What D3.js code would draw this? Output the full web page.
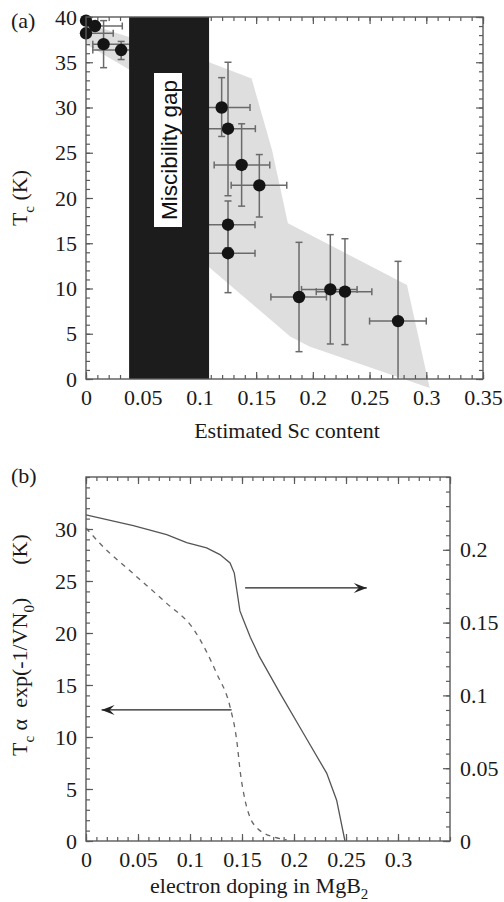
<!DOCTYPE html>
<html><head><meta charset="utf-8">
<script src="https://cdn.jsdelivr.net/npm/d3@7"></script>
<style>
body{margin:0;background:#fff;}
svg{display:block;}
</style></head>
<body>
<svg id="chart" width="504" height="902"></svg>
<script>
// ---------- Panel (a) data ----------
const scContent = [0.000, 0.008, 0.000, 0.0155, 0.031, 0.1196, 0.1252, 0.1372, 0.1528, 0.1252, 0.1252, 0.1878, 0.2154, 0.2283, 0.2751];
const tcMeasured = [39.6, 39.0, 38.2, 37.0, 36.35, 30.0, 27.66, 23.65, 21.4, 17.05, 13.9, 9.06, 9.9, 9.65, 6.4];
const scLow  = [null, 0.000, 0.000, 0.006, 0.006, 0.095, 0.100, 0.113, 0.128, 0.100, 0.100, 0.163, 0.190, 0.203, 0.250];
const scHigh = [null, 0.032, 0.024, 0.039, 0.040, 0.1446, 0.1493, 0.162, 0.177, 0.149, 0.149, 0.212, 0.239, 0.252, 0.300];
const tcLow  = [null, null, null, 34.4, 35.3, 26.8, 20.25, 19.1, 17.9, 14.5, 9.54, 3.02, 3.87, 3.8, 0.0];
const tcHigh = [null, null, null, 39.6, 37.3, 33.3, 35.0, 28.2, 24.8, 19.67, 17.0, 15.1, 15.95, 15.5, 13.0];
const bandUpper = [[0,39.3],[0.038,37.8],[0.1085,35.0],[0.146,33.2],[0.164,25.3],[0.178,17.2],[0.283,10.4],[0.303,-1.0]];
const bandLower = [[0.303,-1.0],[0.197,3.6],[0.18,4.7],[0.109,12.3],[0.038,34.2],[0,37.0]];
const gapRange = [0.038, 0.1085];
const gapLabel = "Miscibility gap";
const aXTicks = [0,0.05,0.1,0.15,0.2,0.25,0.3,0.35];
const aXLabels = ["0","0.05","0.1","0.15","0.2","0.25","0.3","0.35"];
const aYTicks = [0,5,10,15,20,25,30,35,40];
const aYLabels = ["0","5","10","15","20","25","30","35","40"];

// ---------- Panel (b) data ----------
const dopingSolid = [0,0.0455,0.0776,0.0968,0.116,0.1288,0.1385,0.1426,0.1455,0.148,0.1513,0.158,0.1665,0.1865,0.209,0.2314,0.241,0.249];
const expSolid    = [0.224,0.2166,0.2104,0.205,0.2013,0.1967,0.191,0.184,0.170,0.158,0.152,0.140,0.127,0.1016,0.074,0.0466,0.028,0];
const dopingDashed = [0,0.0135,0.0455,0.0776,0.1032,0.1257,0.1385,0.1449,0.1485,0.153,0.158,0.164,0.172,0.18,0.193];
const tcDashed     = [30.1,28.6,25.7,22.85,20.4,16.1,12.9,9.7,6.5,3.9,2.2,1.3,0.7,0.4,0.1];
const arrowRight = {x0:0.153, x1:0.27, v:0.1738};
const arrowLeft  = {x0:0.140, x1:0.015, v:12.6};
const bXTicks = [0,0.05,0.1,0.15,0.2,0.25,0.3];
const bXLabels = ["0","0.05","0.1","0.15","0.2","0.25","0.3"];
const bYLTicks = [0,5,10,15,20,25,30];
const bYLLabels = ["0","5","10","15","20","25","30"];
const bYRTicks = [0,0.05,0.1,0.15,0.2];
const bYRLabels = ["0","0.05","0.1","0.15","0.2"];

const SERIF = "'Liberation Serif', 'Times New Roman', serif";
const SANS = "'Liberation Sans', Arial, sans-serif";
const svg = d3.select("#chart");
const axisCol = "#5a5a5a";
const tickFont = 22;

function styleAxis(g){
  g.select(".domain").remove();
  g.selectAll(".tick line").attr("stroke",axisCol).attr("stroke-width",1.2);
  g.selectAll("text").style("font-size",tickFont+"px").attr("fill","#1a1a1a").style("font-family",SERIF);
}
function frameAxes(g, x, y, xt, xl, yt, yl, minorX, minorY, opts){
  const [x0,x1] = x.range(), [y0,y1] = y.range();
  g.append("g").attr("transform",`translate(0,${y0})`)
   .call(d3.axisBottom(x).tickValues(xt).tickFormat((d,i)=>xl[i]).tickSize(-7).tickPadding(opts.xpad))
   .call(styleAxis);
  g.append("g").attr("transform",`translate(0,${y0})`)
   .call(d3.axisBottom(x).tickValues(minorX).tickFormat("").tickSize(-4)).call(styleAxis);
  g.append("g").attr("transform",`translate(0,${y1})`)
   .call(d3.axisTop(x).tickValues(xt.concat(opts.extraTopX||[])).tickFormat("").tickSize(-7)).call(styleAxis);
  g.append("g").attr("transform",`translate(0,${y1})`)
   .call(d3.axisTop(x).tickValues(minorX).tickFormat("").tickSize(-4)).call(styleAxis);
  g.append("g").attr("transform",`translate(${x0},0)`)
   .call(d3.axisLeft(y).tickValues(yt).tickFormat((d,i)=>yl[i]).tickSize(-7).tickPadding(opts.ypad))
   .call(styleAxis);
  g.append("g").attr("transform",`translate(${x0},0)`)
   .call(d3.axisLeft(y).tickValues(minorY).tickFormat("").tickSize(-4)).call(styleAxis);
}
function label(g, x, y, size, txt){
  return g.append("text").attr("x",x).attr("y",y).style("font-size",size+"px")
    .style("font-family",SERIF).attr("fill","#1a1a1a").text(txt);
}

// ================= Panel (a) =================
const aX = d3.scaleLinear().domain([0,0.35]).range([86,483]);
const aY = d3.scaleLinear().domain([0,40]).range([379,17]);
const ga = svg.append("g");

ga.append("path")
  .attr("d", d3.line().x(d=>aX(d[0])).y(d=>aY(d[1]))(bandUpper.concat(bandLower)) + "Z")
  .attr("fill","#dedede");

frameAxes(ga, aX, aY, aXTicks, aXLabels, aYTicks, aYLabels,
  d3.range(0,0.3501,0.01), d3.range(0,40.01,1), {xpad:10, ypad:9});
ga.append("g").attr("transform",`translate(483,0)`)
  .call(d3.axisRight(aY).tickValues(aYTicks).tickFormat("").tickSize(-7)).call(styleAxis);
ga.append("g").attr("transform",`translate(483,0)`)
  .call(d3.axisRight(aY).tickValues(d3.range(0,40.01,1)).tickFormat("").tickSize(-4)).call(styleAxis);

const eb = ga.append("g").attr("stroke","#6a6a6a").attr("stroke-width",1.5).attr("fill","none");
const cap = 3.5;
scContent.forEach((xv,i)=>{
  const cx = aX(xv), cy = aY(tcMeasured[i]);
  if(scLow[i]!==null){
    const a = aX(scLow[i]), b = aX(scHigh[i]);
    eb.append("line").attr("x1",a).attr("x2",b).attr("y1",cy).attr("y2",cy);
    if(scLow[i]>0) eb.append("line").attr("x1",a).attr("x2",a).attr("y1",cy-cap).attr("y2",cy+cap);
    eb.append("line").attr("x1",b).attr("x2",b).attr("y1",cy-cap).attr("y2",cy+cap);
  }
  if(tcLow[i]!==null){
    const a = aY(tcLow[i]), b = aY(tcHigh[i]);
    eb.append("line").attr("x1",cx).attr("x2",cx).attr("y1",a).attr("y2",b);
    if(tcLow[i]>0) eb.append("line").attr("x1",cx-cap).attr("x2",cx+cap).attr("y1",a).attr("y2",a);
    eb.append("line").attr("x1",cx-cap).attr("x2",cx+cap).attr("y1",b).attr("y2",b);
  }
});
ga.append("g").selectAll("circle").data(scContent).join("circle")
  .attr("cx",d=>aX(d)).attr("cy",(d,i)=>aY(tcMeasured[i])).attr("r",6.2).attr("fill","#141414");

ga.append("rect").attr("x",aX(gapRange[0])).attr("y",aY(40))
  .attr("width",aX(gapRange[1])-aX(gapRange[0])).attr("height",aY(0)-aY(40)).attr("fill","#1c1c1c");
ga.append("rect").attr("x",154).attr("y",73).attr("width",28).attr("height",154).attr("fill","#fff");
ga.append("text").attr("transform",`translate(176.5,150) rotate(-90)`)
  .attr("text-anchor","middle").style("font-size","22.5px").attr("fill","#111")
  .style("font-family",SANS).text(gapLabel);

ga.append("rect").attr("x",86).attr("y",17).attr("width",397).attr("height",362)
  .attr("fill","none").attr("stroke",axisCol).attr("stroke-width",1.4);

label(ga, 11, 28, 22, "(a)");
const ya = ga.append("text").attr("transform","translate(27,198) rotate(-90)")
  .attr("text-anchor","middle").style("font-size","22px").style("font-family",SERIF).attr("fill","#1a1a1a");
ya.append("tspan").text("T");
ya.append("tspan").attr("dy",7).style("font-size","15px").text("c");
ya.append("tspan").attr("dy",-7).text(" (K)");
label(ga, 287, 438, 22, "Estimated Sc content").attr("text-anchor","middle");

// ================= Panel (b) =================
const bX = d3.scaleLinear().domain([0,0.35]).range([86,450]);
const bYL = d3.scaleLinear().domain([0,35]).range([841,477]);
const bYR = d3.scaleLinear().domain([0,0.25]).range([841,477]);
const gb = svg.append("g");

frameAxes(gb, bX, bYL, bXTicks, bXLabels, bYLTicks, bYLLabels,
  d3.range(0,0.3501,0.01), d3.range(0,35.01,1), {xpad:10, ypad:9, extraTopX:[0.35]});
gb.append("g").attr("transform",`translate(450,0)`)
  .call(d3.axisRight(bYR).tickValues(bYRTicks).tickFormat((d,i)=>bYRLabels[i]).tickSize(-7).tickPadding(10))
  .call(styleAxis);
gb.append("g").attr("transform",`translate(450,0)`)
  .call(d3.axisRight(bYR).tickValues(d3.range(0,0.2501,0.01)).tickFormat("").tickSize(-4)).call(styleAxis);

gb.append("path")
  .attr("d", d3.line().x(d=>bX(d)).y((d,i)=>bYR(expSolid[i]))(dopingSolid))
  .attr("fill","none").attr("stroke","#555").attr("stroke-width",1.3);
gb.append("path")
  .attr("d", d3.line().curve(d3.curveMonotoneX).x(d=>bX(d)).y((d,i)=>bYL(tcDashed[i]))(dopingDashed))
  .attr("fill","none").attr("stroke","#666").attr("stroke-width",1.3).attr("stroke-dasharray","5,5");

const defs = svg.append("defs");
defs.append("marker").attr("id","arr").attr("viewBox","-14 -6 16 12").attr("refX",0).attr("refY",0)
  .attr("markerWidth",16).attr("markerHeight",12).attr("markerUnits","userSpaceOnUse").attr("orient","auto")
  .append("path").attr("d","M0,0 L-13,-5 L-8,0 L-13,5 Z").attr("fill","#222");
gb.append("line").attr("x1",bX(arrowRight.x0)).attr("x2",bX(arrowRight.x1))
  .attr("y1",bYR(arrowRight.v)).attr("y2",bYR(arrowRight.v))
  .attr("stroke","#222").attr("stroke-width",1.2).attr("marker-end","url(#arr)");
gb.append("line").attr("x1",bX(arrowLeft.x0)).attr("x2",bX(arrowLeft.x1))
  .attr("y1",bYL(arrowLeft.v)).attr("y2",bYL(arrowLeft.v))
  .attr("stroke","#222").attr("stroke-width",1.2).attr("marker-end","url(#arr)");

gb.append("rect").attr("x",86).attr("y",477).attr("width",364).attr("height",364)
  .attr("fill","none").attr("stroke",axisCol).attr("stroke-width",1.4);

label(gb, 11, 483, 22, "(b)");
const yb = gb.append("text").attr("transform","translate(27,756) rotate(-90)")
  .attr("text-anchor","start").style("font-size","22px").style("font-family",SERIF).attr("fill","#1a1a1a");
yb.append("tspan").text("T");
yb.append("tspan").attr("dy",7).style("font-size","15px").text("c");
yb.append("tspan").attr("dy",-7).text("\u00a0α\u00a0\u00a0exp(-1/VN");
yb.append("tspan").attr("dy",7).style("font-size","15px").text("0");
yb.append("tspan").attr("dy",-7).text(")\u00a0\u00a0\u00a0\u00a0\u00a0\u00a0(K)");
const xb = label(gb, 150, 893, 22, "");
xb.append("tspan").text("electron doping in MgB");
xb.append("tspan").attr("dy",6).style("font-size","15px").text("2");
</script>
</body></html>
